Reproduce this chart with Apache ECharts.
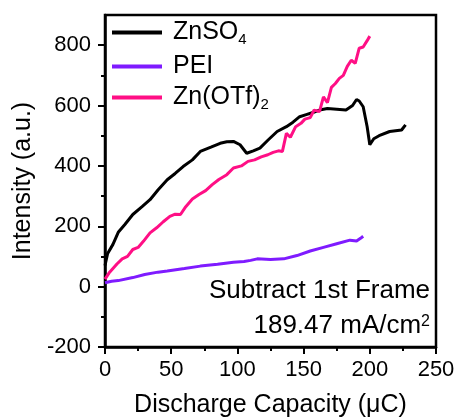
<!DOCTYPE html>
<html><head><meta charset="utf-8">
<script src="https://cdn.jsdelivr.net/npm/echarts@6/dist/echarts.min.js"></script>
<style>html,body{margin:0;padding:0;background:#fff}#c{width:456px;height:420px}</style>
</head><body><div id="c"></div>
<script>
const seriesNames = ['ZnSO4', 'PEI', 'Zn(OTf)2'];
const xTicks = [0, 50, 100, 150, 200, 250];
const yTicks = [-200, 0, 200, 400, 600, 800];
const yMinorTicks = [-100, 100, 300, 500, 700];

const capacityZnSO4 = [0, 2, 6, 10, 15, 21, 28, 34, 40, 47, 53, 59, 66, 72, 80, 87, 92, 97, 102, 107, 112, 117, 123, 130, 137, 142, 147, 152, 157, 162, 168, 175, 182, 187, 190, 192, 195, 198, 200, 203, 207, 215, 224, 227];
const intensityZnSO4 = [70, 110, 140, 180, 206, 239, 265, 288, 320, 354, 375, 398, 420, 448, 462, 475, 480, 481, 470, 442, 450, 459, 485, 514, 530, 545, 563, 570, 577, 585, 590, 588, 585, 600, 620, 615, 596, 530, 470, 490, 500, 514, 519, 536];

const capacityPEI = [0, 5, 10, 21, 30, 40, 47, 60, 72, 85, 97, 105, 110, 115, 125, 135, 145, 155, 165, 175, 185, 190, 193, 195];
const intensityPEI = [13, 18, 20, 30, 40, 48, 52, 60, 68, 74, 81, 83, 87, 92, 90, 92, 103, 118, 130, 142, 154, 151, 160, 167];

const capacityOTf = [0, 3, 6, 9, 13, 17, 21, 25, 29, 34, 39, 44, 49, 53, 57, 61, 66, 71, 76, 81, 86, 92, 97, 103, 108, 113, 118, 123, 127, 131, 134, 137, 140, 144, 148, 151, 155, 158, 162, 165, 168, 171, 174, 177, 180, 183, 186, 189, 192, 195, 198, 200];
const intensityOTf = [25, 45, 60, 75, 92, 100, 123, 130, 150, 178, 195, 215, 233, 240, 239, 265, 290, 305, 318, 338, 355, 371, 393, 400, 415, 420, 430, 437, 445, 450, 448, 508, 495, 530, 541, 555, 560, 585, 580, 629, 610, 660, 673, 690, 700, 730, 750, 740, 790, 794, 815, 830];

const colors = ['#000000', '#7f1bff', '#ff0f85'];
const FONT = '"Liberation Sans", Arial, sans-serif';

function pairs(xs, ys) { return xs.map((x, i) => [x, ys[i]]); }

const legendRich = {
  n: { fontSize: 25, fontFamily: FONT, color: '#000', lineHeight: 30, verticalAlign: 'middle' },
  s: { fontSize: 15, fontFamily: FONT, color: '#000', lineHeight: 15, verticalAlign: 'bottom' }
};
function legendFmt(name) {
  if (name === 'ZnSO4') return '{n|ZnSO}{s|4}';
  if (name === 'Zn(OTf)2') return '{n|Zn(OTf)}{s|2}';
  return '{n|' + name + '}';
}
const legendTops = [20, 54, 85];
const legends = seriesNames.map((nm, i) => ({
  data: [nm], left: 112, top: legendTops[i], padding: 0, orient: 'vertical',
  icon: 'rect', itemWidth: 50, itemHeight: 4,
  formatter: legendFmt,
  textStyle: { rich: legendRich, padding: [0, 0, 0, 6] },
  selectedMode: false
}));

const option = {
  animation: false,
  backgroundColor: '#fff',
  grid: { left: 105, right: 20, top: 15, bottom: 73, outerBoundsMode: 'none', containLabel: false, show: true, borderColor: '#000', borderWidth: 2.5, backgroundColor: 'transparent' },
  legend: legends,
  xAxis: {
    type: 'value', min: xTicks[0], max: xTicks[xTicks.length - 1], interval: 50,
    name: 'Discharge Capacity (μC)', nameLocation: 'middle', nameGap: 46,
    nameTextStyle: { fontSize: 25, fontFamily: FONT, color: '#000' },
    axisLine: { show: true, onZero: false, lineStyle: { color: '#000', width: 2.5 } },
    axisTick: { show: true, inside: false, length: 7, lineStyle: { color: '#000', width: 2 } },
    minorTick: { show: true, splitNumber: 2, length: 4, lineStyle: { color: '#000', width: 2 } },
    axisLabel: { fontSize: 22, fontFamily: FONT, color: '#000', margin: 12 },
    splitLine: { show: false }, minorSplitLine: { show: false }
  },
  yAxis: [{
    type: 'value', min: -200, max: 900, interval: 200,
    name: 'Intensity (a.u.)', nameLocation: 'middle', nameGap: 64,
    nameTextStyle: { fontSize: 25, fontFamily: FONT, color: '#000' },
    axisLine: { show: true, onZero: false, lineStyle: { color: '#000', width: 2.5 } },
    axisTick: { show: true, inside: false, length: 7, lineStyle: { color: '#000', width: 2 }, customValues: yTicks },
    axisLabel: { fontSize: 22, fontFamily: FONT, color: '#000', margin: 14, customValues: yTicks },
    splitLine: { show: false }
  }, {
    type: 'value', min: -200, max: 900, position: 'left',
    axisLine: { show: false, onZero: false },
    axisTick: { show: true, inside: false, length: 4, lineStyle: { color: '#000', width: 2 }, customValues: yMinorTicks },
    axisLabel: { show: false },
    splitLine: { show: false }
  }],
  series: [
    { name: seriesNames[0], type: 'line', data: pairs(capacityZnSO4, intensityZnSO4), showSymbol: false, symbol: 'none', lineStyle: { width: 3, color: colors[0] }, itemStyle: { color: colors[0] }, z: 3 },
    { name: seriesNames[1], type: 'line', data: pairs(capacityPEI, intensityPEI), showSymbol: false, symbol: 'none', lineStyle: { width: 3, color: colors[1] }, itemStyle: { color: colors[1] }, z: 2 },
    { name: seriesNames[2], type: 'line', data: pairs(capacityOTf, intensityOTf), showSymbol: false, symbol: 'none', lineStyle: { width: 3, color: colors[2] }, itemStyle: { color: colors[2] }, z: 4 }
  ],
  graphic: [
    { type: 'text', right: 26, top: 278, style: { text: 'Subtract 1st Frame', font: '26px ' + FONT, fill: '#000' } },
    { type: 'text', right: 26, top: 311, style: { text: '{a|189.47 mA/cm}{b|2}', fill: '#000',
      rich: { a: { fontSize: 26, fontFamily: FONT, lineHeight: 30, verticalAlign: 'middle' },
              b: { fontSize: 16, fontFamily: FONT, lineHeight: 16, verticalAlign: 'top', padding: [3, 0, 0, 0] } } } }
  ]
};
const chart = echarts.init(document.getElementById('c'), null, { renderer: 'canvas' });
chart.setOption(option);
</script></body></html>
